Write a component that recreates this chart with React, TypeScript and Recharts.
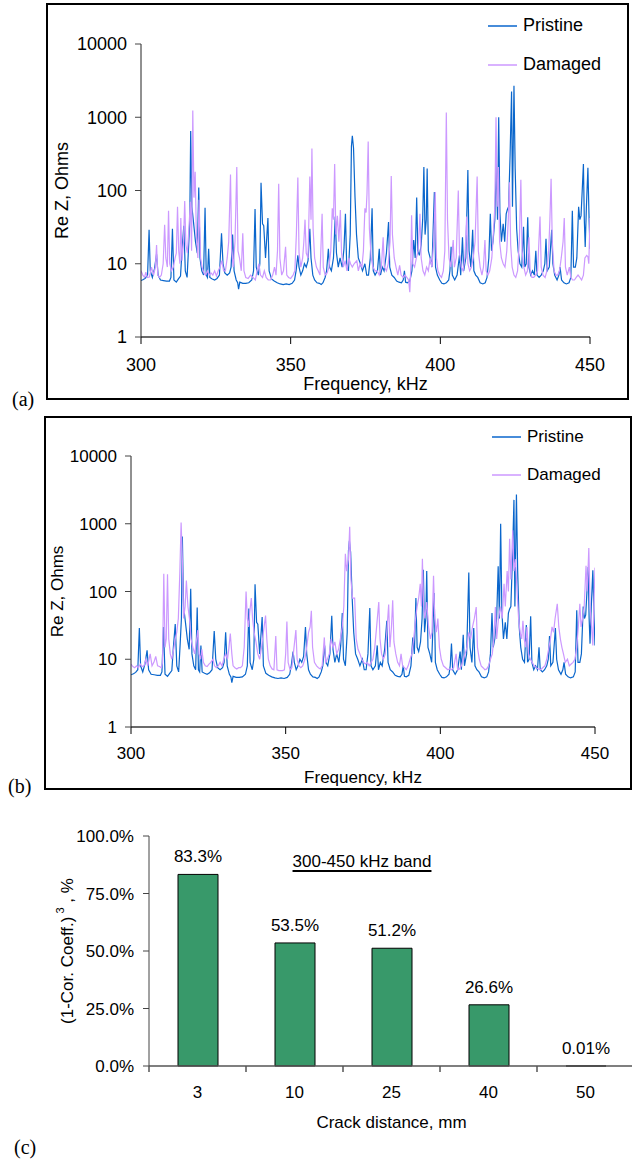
import React from "react";
import {
  LineChart,
  Line,
  BarChart,
  Bar,
  XAxis,
  YAxis,
  Legend,
  LabelList,
} from "recharts";

const FONT = '"Liberation Sans", Arial, sans-serif';
const SERIF = '"Liberation Serif", "Times New Roman", serif';
const BLUE = "#0a66cc";
const LILAC = "#cc99ff";
const GREEN = "#38996a";

const seriesNames = ["Pristine", "Damaged"];

// Pristine spectrum (same baseline measurement in both panels): [kHz, Ohms]
const pristine: [number, number][] = [
  [300, 5.9], [300.8, 6.1], [301.5, 6.4], [302.2, 7], [302.7, 29], [303.1, 8], [303.8, 6.5], [304.5, 8.5],
  [305.2, 13.5], [305.7, 7], [306.5, 6], [307.5, 5.9], [308.5, 5.8], [309.5, 5.8], [310, 6.5], [310.5, 30],
  [311, 6], [311.8, 5.6], [312.5, 6.2], [313.2, 6.8], [313.7, 15], [314.3, 33], [314.8, 8], [315.4, 6.5],
  [315.9, 17], [316.3, 40], [316.6, 650], [317, 60], [317.6, 35], [318.2, 20], [318.8, 14], [319.3, 110],
  [319.7, 12], [320.3, 8], [320.9, 7], [321.4, 58], [321.8, 7], [322.2, 6.5], [322.6, 16], [323, 6.5],
  [323.8, 6.2], [324.6, 6], [325.4, 6.3], [326.2, 7], [326.9, 26], [327.4, 10], [328, 7.5], [328.8, 7],
  [329.6, 7.5], [330.1, 9], [330.6, 25], [331.1, 8], [331.8, 6], [332.3, 5.5], [332.6, 4.5], [333, 5.6],
  [334, 5.4], [335, 5.4], [336, 5.5], [337, 6], [337.6, 8], [338.1, 56], [338.5, 9], [339.2, 7],
  [339.7, 10], [340.1, 128], [340.6, 35], [341, 33], [341.6, 12], [342.4, 42], [342.8, 8], [343.6, 6.2],
  [344.5, 5.8], [345.5, 5.5], [346.5, 5.3], [347.5, 5.2], [348.5, 5.3], [349.5, 5.2], [350.5, 5.4], [351.3, 6],
  [351.8, 8], [352.4, 13], [352.8, 9], [353.4, 7], [354, 8], [354.6, 10], [355.2, 9], [355.8, 11],
  [356.4, 30], [356.8, 12], [357.4, 7], [358, 6], [358.8, 5.5], [359.6, 5.4], [360.2, 5.2], [360.8, 5.5],
  [361.5, 6.5], [362, 8], [362.6, 16], [363, 9], [363.6, 8], [364.3, 12], [364.9, 44], [365.3, 14],
  [365.9, 9], [366.5, 12], [367.2, 9], [367.8, 16], [368.3, 48], [368.7, 10], [369.3, 8], [369.9, 25],
  [370.3, 400], [370.6, 560], [371, 380], [371.5, 80], [372, 25], [372.6, 12], [373.3, 10], [374, 8],
  [374.8, 10], [375.4, 7], [376, 7], [376.6, 12], [377.2, 57], [377.6, 8], [378.2, 7], [379, 8],
  [379.6, 16], [380, 7], [380.6, 9], [381.2, 8], [382, 14], [382.7, 37], [383.1, 9], [383.8, 7],
  [384.6, 6.5], [385.4, 5.8], [386.2, 5.6], [387, 5.5], [387.6, 6], [388, 8], [388.4, 5.6], [389, 5.5],
  [389.8, 5.8], [390.5, 8], [391.1, 21], [391.6, 12], [392.1, 80], [392.5, 15], [393, 13], [393.6, 18],
  [394.1, 40], [394.5, 210], [394.9, 25], [395.3, 40], [395.6, 200], [396, 15], [396.6, 12], [397.2, 9],
  [398, 95], [398.4, 9], [399, 7], [399.8, 6], [400.5, 5.4], [401.2, 5.3], [402, 5.5], [402.8, 6],
  [403.2, 8], [403.6, 17], [404, 7], [404.8, 6], [405.6, 7], [406.4, 13], [406.8, 7], [407.4, 23],
  [407.8, 8], [408.5, 12], [409.2, 190], [409.6, 15], [410.2, 9], [410.8, 29], [411.2, 8], [411.8, 7],
  [412.5, 6.5], [413.3, 5.5], [414.2, 5.3], [415, 5.5], [415.6, 6.5], [416.2, 12], [416.7, 48], [417.1, 15],
  [417.6, 20], [418.2, 40], [418.7, 235], [419.1, 40], [419.5, 1000], [419.9, 50], [420.4, 20], [421, 35],
  [421.5, 20], [422, 48], [422.4, 55], [422.8, 60], [423.3, 300], [423.8, 2250], [424.1, 60], [424.6, 2700],
  [425, 200], [425.5, 30], [426, 15], [426.6, 10], [427.2, 9], [427.8, 32], [428.2, 9], [428.7, 10],
  [429.2, 43], [429.6, 9], [430.2, 7], [430.8, 8], [431.4, 7], [431.9, 15], [432.3, 7], [433, 6.5],
  [433.7, 7], [434.4, 8], [434.9, 10], [435.3, 22], [435.7, 8], [436.4, 9], [437.2, 29], [437.6, 10],
  [438.2, 7], [439, 6], [439.6, 7], [440, 9], [440.5, 6], [441.3, 5.5], [442.1, 5.3], [443, 5.5],
  [443.6, 6.5], [444.1, 53], [444.5, 9], [445.1, 9], [445.6, 12], [446.2, 60], [446.6, 40], [447, 45],
  [447.4, 100], [447.8, 230], [448.1, 40], [448.4, 17], [448.8, 60], [449.3, 205], [449.7, 40], [450, 16],
];

// Damaged spectrum, panel (a)
const damagedA: [number, number][] = [
  [300, 8], [300.6, 7], [301.2, 6.5], [301.6, 7.7], [302.1, 6.5], [302.8, 6.6], [303.5, 9], [304.2, 7],
  [304.8, 9], [305.2, 18], [305.6, 7], [306.2, 6.5], [306.8, 7], [307.4, 10], [307.9, 34], [308.3, 12],
  [308.8, 9], [309.2, 53], [309.6, 10], [310.2, 8], [310.8, 9], [311.4, 12], [311.8, 14], [312.2, 60],
  [312.6, 15], [313, 10], [313.3, 42], [313.7, 11], [314.2, 20], [314.6, 72], [315, 18], [315.5, 14],
  [316, 30], [316.5, 70], [316.9, 15], [317.3, 1240], [317.7, 80], [318.1, 180], [318.5, 25], [319, 12],
  [319.4, 75], [319.9, 12], [320.4, 9], [321, 7.5], [321.6, 7], [322.2, 8], [322.8, 7], [323.4, 7.5],
  [324, 7], [324.6, 8], [325.2, 6.8], [325.8, 8], [326.4, 9], [327, 11], [327.6, 8], [328.2, 8],
  [328.8, 12], [329.3, 20], [329.9, 165], [330.3, 15], [330.8, 9], [331.4, 20], [332, 210], [332.4, 15],
  [332.9, 12], [333.5, 8], [334, 26], [334.4, 8], [335, 6.5], [335.8, 6.3], [336.6, 7], [337.4, 6.5],
  [338.2, 6], [338.8, 8], [339.4, 10], [339.9, 7], [340.6, 6.5], [341.2, 8], [341.8, 6.5], [342.5, 6],
  [343.3, 6], [344, 7], [344.6, 9], [345.1, 7], [345.6, 15], [346, 124], [346.4, 12], [347, 7],
  [347.6, 8], [348.3, 17], [348.7, 7], [349.3, 6.5], [350, 6.3], [350.8, 7], [351.4, 8], [351.9, 25],
  [352.4, 150], [352.8, 14], [353.4, 9], [354, 12], [354.4, 20], [354.8, 40], [355.2, 14], [355.8, 12],
  [356.4, 155], [356.8, 40], [357.1, 375], [357.5, 30], [358, 12], [358.6, 9], [359.2, 8], [359.8, 7],
  [360.5, 48], [360.9, 9], [361.5, 7], [362.2, 7.5], [362.8, 9], [363.4, 15], [363.9, 57], [364.3, 40],
  [364.7, 230], [365.1, 25], [365.6, 45], [366.1, 20], [366.6, 54], [367, 14], [367.6, 9], [368.2, 11],
  [368.8, 8], [369.4, 12], [370, 10], [370.6, 9], [371.2, 10], [372.1, 11], [372.6, 8], [373.2, 10],
  [373.8, 9], [374.3, 15], [374.8, 57], [375.2, 50], [375.5, 90], [375.9, 465], [376.3, 30], [376.9, 12],
  [377.5, 9], [378.2, 8], [378.9, 8], [379.6, 7], [380.3, 9], [380.9, 23], [381.3, 9], [382, 8],
  [382.6, 10], [383.2, 20], [383.6, 158], [384, 25], [384.6, 12], [385.2, 9], [385.8, 7], [386.4, 9.5],
  [386.9, 7], [387.6, 6.5], [388.2, 7], [388.8, 6.5], [389.4, 6], [389.8, 4.1], [390.1, 8], [390.4, 46],
  [390.8, 10], [391.4, 9], [392, 12], [392.6, 15], [393.2, 48], [393.6, 12], [394.2, 8], [394.8, 7],
  [395.4, 9], [396, 8], [396.6, 12], [397.2, 9], [397.8, 20], [398.3, 95], [398.7, 12], [399.2, 8],
  [399.8, 7], [400.4, 6.5], [401, 8], [401.5, 15], [402, 1160], [402.4, 40], [402.9, 12], [403.5, 9],
  [404.3, 21], [404.7, 9], [405.3, 12], [406, 100], [406.4, 14], [407, 9], [407.6, 8], [408.2, 12],
  [408.8, 44], [409.2, 10], [409.8, 8], [410.4, 9], [411, 12], [411.6, 20], [412.3, 155], [412.7, 15],
  [413.3, 9], [413.9, 7], [414.4, 9], [414.9, 21], [415.3, 8], [415.9, 7], [416.5, 8], [417.2, 12],
  [417.8, 30], [418.2, 60], [418.6, 1000], [419, 60], [419.4, 210], [419.8, 20], [420.4, 12], [421, 10],
  [421.6, 9], [422.2, 15], [422.7, 40], [423.1, 130], [423.5, 18], [424, 9], [424.6, 7], [425.2, 6.5],
  [425.8, 8], [426.4, 20], [426.9, 140], [427.3, 15], [427.9, 9], [428.5, 7], [429.1, 8], [429.6, 23],
  [430, 8], [430.6, 6.5], [431.2, 6.5], [431.8, 7], [432.5, 8], [433.3, 44], [433.7, 9], [434.3, 7],
  [435, 6.5], [435.6, 8], [436.2, 15], [436.6, 40], [437, 145], [437.4, 20], [438, 8], [438.6, 7],
  [439.2, 7], [439.8, 8], [440.4, 12], [441, 20], [441.4, 42], [441.8, 9], [442.4, 7], [443.1, 9],
  [443.6, 6.5], [444.2, 6], [444.8, 6], [445.4, 6.5], [446, 7], [446.6, 6.5], [447.2, 6], [447.8, 7],
  [448.3, 12], [448.9, 13], [449.3, 12.5], [449.6, 10], [450, 42],
];

// Damaged spectrum, panel (b)
const damagedB: [number, number][] = [
  [300, 8.5], [300.6, 7.8], [301.2, 7.5], [301.8, 8], [302.4, 7.5], [303, 8.5], [303.6, 7.8], [304.2, 8],
  [304.8, 10], [305.4, 8], [306.2, 12], [306.8, 8], [307.4, 9], [308, 11], [308.6, 8], [309.2, 7.8],
  [309.8, 7.5], [310.2, 9], [310.6, 183], [311, 15], [311.4, 20], [311.8, 180], [312.2, 20], [312.7, 12],
  [313.2, 10], [313.8, 14], [314.3, 20], [314.8, 25], [315.3, 40], [315.8, 200], [316.2, 1040], [316.6, 300],
  [317, 40], [317.5, 60], [317.9, 145], [318.4, 60], [318.9, 40], [319.4, 20], [320, 15], [320.6, 12],
  [321.1, 18], [321.6, 27], [322, 12], [322.5, 10], [322.9, 14], [323.4, 9], [324, 8], [324.6, 7.8],
  [325.2, 8.5], [325.8, 9], [326.5, 10], [327, 8], [327.6, 7.5], [328.2, 8], [328.8, 9], [329.4, 8],
  [330, 10], [330.6, 12], [331.2, 10], [331.6, 14], [332.1, 24], [332.6, 12], [333, 8], [333.6, 7.5],
  [334.2, 7.2], [334.8, 7.5], [335.4, 7.5], [336, 8], [336.6, 15], [337.2, 100], [337.6, 40], [338, 30],
  [338.4, 50], [338.9, 80], [339.3, 40], [339.8, 25], [340.4, 18], [341, 12], [341.6, 10], [342.2, 15],
  [342.8, 25], [343.5, 44], [343.9, 20], [344.4, 10], [345, 8], [345.6, 7.2], [346.2, 7], [346.8, 22],
  [347.2, 7], [347.8, 6.8], [348.4, 6.8], [349, 6.8], [349.6, 7], [350, 12], [350.4, 36], [350.8, 9],
  [351.4, 7], [352, 7.5], [352.7, 15], [353.3, 27], [353.7, 10], [354.3, 8], [354.9, 7.5], [355.5, 8],
  [356.2, 10], [356.8, 15], [357.4, 25], [357.9, 30], [358.3, 52], [358.7, 15], [359.3, 9], [360, 8],
  [360.6, 7.5], [361.2, 7.2], [361.8, 8], [362.5, 21], [362.9, 9], [363.5, 10], [364.1, 12], [364.7, 20],
  [365.3, 15], [365.9, 18], [366.5, 12], [367.1, 14], [367.7, 20], [368.3, 30], [368.8, 60], [369.3, 360],
  [369.7, 200], [370, 250], [370.3, 300], [370.7, 900], [371.1, 150], [371.6, 80], [372.3, 80], [372.8, 20],
  [373.4, 14], [374, 12], [374.6, 10], [375.2, 9], [375.8, 8.5], [376.4, 9], [377, 8], [377.6, 9],
  [378.2, 10], [378.8, 15], [379.4, 30], [380.1, 70], [380.5, 20], [381, 12], [381.6, 10], [382.2, 12],
  [382.8, 30], [383.3, 64], [383.7, 15], [384.2, 30], [384.6, 74], [385, 18], [385.6, 12], [386.2, 9],
  [386.8, 8], [387.3, 12], [387.8, 8], [388.4, 7.5], [389, 7], [389.6, 8], [390.2, 10], [390.8, 12],
  [391.4, 20], [392, 40], [392.5, 60], [393, 80], [393.5, 130], [393.9, 60], [394.2, 305], [394.6, 60],
  [395, 40], [395.6, 70], [396.2, 30], [396.8, 20], [397.3, 25], [397.8, 170], [398.2, 40], [398.7, 25],
  [399.2, 40], [399.7, 15], [400.3, 10], [401, 8], [401.7, 7.5], [402.4, 7], [403, 7.2], [403.6, 7],
  [404.3, 7.5], [405.1, 12], [405.6, 7], [406.2, 7.2], [406.8, 8], [407.4, 10], [408, 12], [408.6, 15],
  [409.2, 25], [409.8, 20], [410.4, 30], [411, 40], [411.6, 59], [412, 15], [412.6, 10], [413.2, 8],
  [413.8, 7.5], [414.4, 7], [415, 7.2], [415.6, 8], [416.2, 10], [416.8, 12], [417.3, 20], [417.8, 59],
  [418.2, 20], [418.8, 40], [419.4, 60], [420, 40], [420.6, 130], [421, 60], [421.6, 200], [422, 100],
  [422.4, 600], [422.8, 150], [423.4, 800], [423.8, 200], [424.3, 300], [424.8, 100], [425.3, 40], [425.8, 25],
  [426.3, 20], [426.7, 37], [427.1, 20], [427.6, 15], [428, 30], [428.5, 12], [429.1, 10], [429.7, 9],
  [430.3, 8], [431, 7.5], [431.7, 7.2], [432.4, 7], [433.1, 7.5], [433.8, 8], [434.4, 10], [435, 14],
  [435.6, 20], [436.1, 30], [436.6, 25], [437.1, 40], [437.8, 66], [438.3, 30], [438.8, 20], [439.3, 15],
  [439.8, 12], [440.4, 9], [441.1, 10], [441.7, 8], [442.3, 8.5], [442.9, 9], [443.5, 10], [444.1, 15],
  [444.6, 30], [445.1, 66], [445.5, 30], [446, 40], [446.5, 60], [447.1, 240], [447.5, 100], [448, 440],
  [448.4, 60], [448.9, 30], [449.3, 16], [449.7, 80], [450, 225],
];

const freqTicks = [300, 350, 400, 450];
const ohmTicks = [1, 10, 100, 1000, 10000];

// Panel (c)
const crackDistances = ["3", "10", "25", "40", "50"];
const corrValues = [83.3, 53.5, 51.2, 26.6, 0.01];
const pctTicks = [0, 25, 50, 75, 100];

const toPoints = (pairs: [number, number][]) => pairs.map(([f, v]) => ({ f, v }));

interface PanelProps {
  top: number;
  damaged: [number, number][];
  plotLeft: number;
  plotRight: number;
  plotTop: number;
  plotBottom: number;
  fontSize: number;
  yLabelX: number;
  xLabelY: number;
  xTickGap: number;
  legendLeft: number;
  legendTop: number;
  legendRow: number;
}

function SpectrumPanel(p: PanelProps) {
  const W = 632;
  const H = 400;
  const legendContent = ({ payload }: any) => {
    const items = [...(payload || [])].sort(
      (a: any, b: any) => seriesNames.indexOf(a.value) - seriesNames.indexOf(b.value)
    );
    return (
      <div style={{ fontFamily: FONT, fontSize: p.fontSize, color: "#000" }}>
        {items.map((entry: any) => (
          <div
            key={entry.value}
            style={{ display: "flex", alignItems: "center", height: p.legendRow }}
          >
            <svg width={29} height={4}>
              <line x1={0} y1={2} x2={29} y2={2} stroke={entry.color} strokeWidth={1.5} />
            </svg>
            <span style={{ marginLeft: 6 }}>{entry.value}</span>
          </div>
        ))}
      </div>
    );
  };

  return (
    <div style={{ position: "absolute", left: 0, top: p.top, width: W, height: H }}>
      <LineChart
        width={W}
        height={H}
        margin={{ top: p.plotTop, right: W - p.plotRight, bottom: 0, left: 0 }}
      >
        <XAxis
          type="number"
          dataKey="f"
          domain={[300, 450]}
          ticks={freqTicks}
          allowDataOverflow
          height={H - p.plotBottom}
          tickSize={7}
          tickMargin={p.xTickGap}
          axisLine={{ stroke: "#6b6b6b", strokeWidth: 2 }}
          tickLine={{ stroke: "#000" }}
          tick={{ fill: "#000", fontSize: p.fontSize, fontFamily: FONT }}
          label={{
            content: ({ viewBox }: any) => (
              <text
                x={viewBox.x + viewBox.width / 2}
                y={p.xLabelY}
                textAnchor="middle"
                dominantBaseline="central"
                fontFamily={FONT}
                fontSize={p.fontSize}
                fill="#000"
              >
                Frequency, kHz
              </text>
            ),
          }}
        />
        <YAxis
          scale="log"
          domain={[1, 10000]}
          ticks={ohmTicks}
          allowDataOverflow
          width={p.plotLeft}
          tickSize={6}
          tickMargin={8}
          axisLine={{ stroke: "#222" }}
          tickLine={{ stroke: "#444" }}
          tick={{ fill: "#000", fontSize: p.fontSize, fontFamily: FONT }}
          label={{
            content: ({ viewBox }: any) => {
              const cy = viewBox.y + viewBox.height / 2;
              return (
                <text
                  x={p.yLabelX}
                  y={cy}
                  transform={`rotate(-90, ${p.yLabelX}, ${cy})`}
                  textAnchor="middle"
                  dominantBaseline="central"
                  fontFamily={FONT}
                  fontSize={p.fontSize}
                  fill="#000"
                >
                  Re Z, Ohms
                </text>
              );
            },
          }}
        />
        <Legend
          layout="vertical"
          align="center"
          verticalAlign="middle"
          content={legendContent}
          wrapperStyle={{ left: p.legendLeft, top: p.legendTop, width: "auto", height: "auto" }}
        />
        <Line
          name="Pristine"
          data={toPoints(pristine)}
          dataKey="v"
          stroke={BLUE}
          strokeWidth={1.2}
          dot={false}
          type="linear"
          isAnimationActive={false}
        />
        <Line
          name="Damaged"
          data={toPoints(p.damaged)}
          dataKey="v"
          stroke={LILAC}
          strokeWidth={1.2}
          dot={false}
          type="linear"
          isAnimationActive={false}
        />
      </LineChart>
    </div>
  );
}

const BAR_LEFT = 149;
const BAR_RIGHT = 634;
const BAND = (BAR_RIGHT - BAR_LEFT) / crackDistances.length;

function CrackTick(props: any) {
  const { x, y, payload, index } = props;
  const axisY = y - 20;
  const left = x - BAND / 2;
  return (
    <g>
      <line x1={left} y1={axisY} x2={left} y2={axisY + 6} stroke="#555" strokeWidth={1.5} />
      {index === crackDistances.length - 1 && (
        <line x1={x + BAND / 2} y1={axisY} x2={x + BAND / 2} y2={axisY + 6} stroke="#555" strokeWidth={1.5} />
      )}
      <text x={x} y={y} dy="0.71em" textAnchor="middle" fontFamily={FONT} fontSize={17} fill="#000">
        {payload.value}
      </text>
    </g>
  );
}

export default function App() {
  const barData = crackDistances.map((d, i) => ({ name: d, value: corrValues[i] }));

  return (
    <div
      style={{
        position: "absolute",
        left: 0,
        top: 0,
        width: 632,
        height: 1159,
        overflow: "hidden",
        background: "#fff",
        fontFamily: FONT,
      }}
    >
      {/* (a) */}
      <div style={{ position: "absolute", left: 46, top: 3, width: 579, height: 393, border: "2px solid #000" }} />
      <SpectrumPanel
        top={0}
        damaged={damagedA}
        plotLeft={141}
        plotRight={590}
        plotTop={44}
        plotBottom={337}
        fontSize={18}
        yLabelX={62}
        xLabelY={384}
        xTickGap={14}
        legendLeft={488}
        legendTop={6}
        legendRow={39}
      />
      <div style={{ position: "absolute", left: 12, top: 388, fontFamily: SERIF, fontSize: 20 }}>(a)</div>

      {/* (b) */}
      <div style={{ position: "absolute", left: 44, top: 416, width: 584, height: 370, border: "2px solid #000" }} />
      <SpectrumPanel
        top={400}
        damaged={damagedB}
        plotLeft={131}
        plotRight={595}
        plotTop={56}
        plotBottom={327}
        fontSize={17}
        yLabelX={57}
        xLabelY={377}
        xTickGap={13}
        legendLeft={492}
        legendTop={18}
        legendRow={38}
      />
      <div style={{ position: "absolute", left: 8, top: 775, fontFamily: SERIF, fontSize: 20 }}>(b)</div>

      {/* (c) */}
      <div style={{ position: "absolute", left: 0, top: 800, width: 640, height: 359 }}>
        <BarChart
          width={640}
          height={359}
          data={barData}
          margin={{ top: 36, right: 640 - BAR_RIGHT, bottom: 23, left: 0 }}
          barSize={40}
        >
          <XAxis
            dataKey="name"
            height={70}
            tickSize={0}
            tickMargin={20}
            tickLine={false}
            axisLine={{ stroke: "#555", strokeWidth: 1.5 }}
            tick={<CrackTick />}
            interval={0}
            label={{
              value: "Crack distance, mm",
              position: "insideBottom",
              offset: 8,
              fill: "#000",
              fontSize: 17,
              fontFamily: FONT,
            }}
          />
          <YAxis
            domain={[0, 100]}
            ticks={pctTicks}
            width={BAR_LEFT}
            tickSize={6}
            tickMargin={9}
            axisLine={{ stroke: "#444" }}
            tickLine={{ stroke: "#444" }}
            tickFormatter={(v: number) => `${v.toFixed(1)}%`}
            tick={{ fill: "#000", fontSize: 17, fontFamily: FONT }}
            label={{
              content: ({ viewBox }: any) => {
                const cx = 67;
                const cy = viewBox.y + viewBox.height / 2;
                return (
                  <text
                    x={cx}
                    y={cy}
                    transform={`rotate(-90, ${cx}, ${cy})`}
                    textAnchor="middle"
                    dominantBaseline="central"
                    fontFamily={FONT}
                    fontSize={17}
                    fill="#000"
                  >
                    (1-Cor. Coeff.)
                    <tspan dy={-7} fontSize={11}> 3</tspan>
                    <tspan dy={7}> , %</tspan>
                  </text>
                );
              },
            }}
          />
          <Bar dataKey="value" fill={GREEN} stroke="#000" strokeWidth={1} isAnimationActive={false}>
            <LabelList
              dataKey="value"
              position="top"
              offset={12}
              formatter={(v: any) => `${v}%`}
              style={{ fill: "#000", fontSize: 17, fontFamily: FONT }}
            />
          </Bar>
        </BarChart>
      </div>
      <div
        style={{
          position: "absolute",
          left: 362,
          top: 852,
          transform: "translateX(-50%)",
          fontSize: 17,
          whiteSpace: "nowrap",
          textDecoration: "underline",
          textDecorationThickness: 2,
          textUnderlineOffset: 3,
        }}
      >
        300-450 kHz band
      </div>
      <div style={{ position: "absolute", left: 14, top: 1136, fontFamily: SERIF, fontSize: 20 }}>(c)</div>
    </div>
  );
}
